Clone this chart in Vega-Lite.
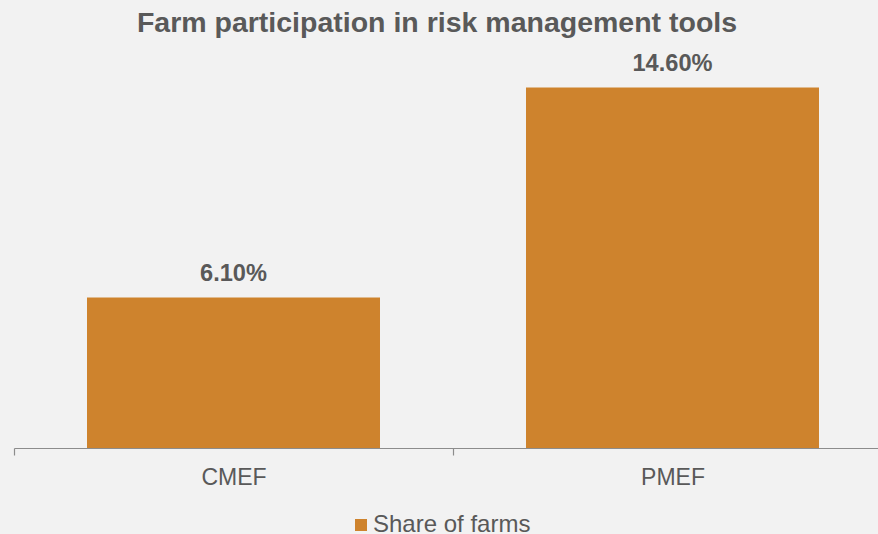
{
  "$schema": "https://vega.github.io/schema/vega-lite/v6.json",
  "width": 864,
  "height": 395,
  "autosize": "none",
  "padding": {"left": 14, "top": 53, "right": 0, "bottom": 86},
  "background": "#F2F2F2",
  "title": {
    "text": "Farm participation in risk management tools",
    "font": "Liberation Sans",
    "fontSize": 28.5,
    "fontWeight": "bold",
    "color": "#595959",
    "anchor": "middle",
    "frame": "group",
    "offset": 14,
    "dx": -9
  },
  "data": {
    "values": [
      {"program": "CMEF", "share": 0.061, "series": "Share of farms"},
      {"program": "PMEF", "share": 0.146, "series": "Share of farms"}
    ]
  },
  "encoding": {
    "x": {
      "field": "program",
      "type": "nominal",
      "sort": null,
      "scale": {"range": [0, 878], "paddingInner": 0, "paddingOuter": 0},
      "axis": {
        "title": null,
        "labelAngle": 0,
        "labelFont": "Liberation Sans",
        "labelFontSize": 23,
        "labelColor": "#595959",
        "labelBaseline": "alphabetic",
        "labelPadding": 29,
        "tickSize": 7,
        "tickBand": "extent",
        "domainColor": "#8C8C8C",
        "tickColor": "#8C8C8C",
        "domainWidth": 1.2,
        "tickWidth": 1.2,
        "grid": false
      }
    },
    "y": {
      "field": "share",
      "type": "quantitative",
      "scale": {"domain": [0, 0.16]},
      "axis": null
    }
  },
  "layer": [
    {
      "mark": {"type": "bar", "width": {"band": 0.6674}},
      "encoding": {
        "color": {
          "field": "series",
          "type": "nominal",
          "scale": {"range": ["#CE832D"]},
          "legend": {
            "title": null,
            "orient": "none",
            "legendX": 335,
            "legendY": 460,
            "symbolType": "square",
            "symbolSize": 144,
            "symbolStrokeWidth": 0,
            "labelFont": "Liberation Sans",
            "labelFontSize": 24,
            "labelColor": "#595959",
            "labelOffset": 0,
            "padding": 0
          }
        }
      }
    },
    {
      "mark": {
        "type": "text",
        "baseline": "alphabetic",
        "dy": -16.7,
        "font": "Liberation Sans",
        "fontSize": 23.6,
        "fontWeight": "bold",
        "color": "#595959"
      },
      "encoding": {
        "text": {"field": "share", "type": "quantitative", "format": ".2%"}
      }
    }
  ],
  "config": {
    "view": {"stroke": null}
  }
}
